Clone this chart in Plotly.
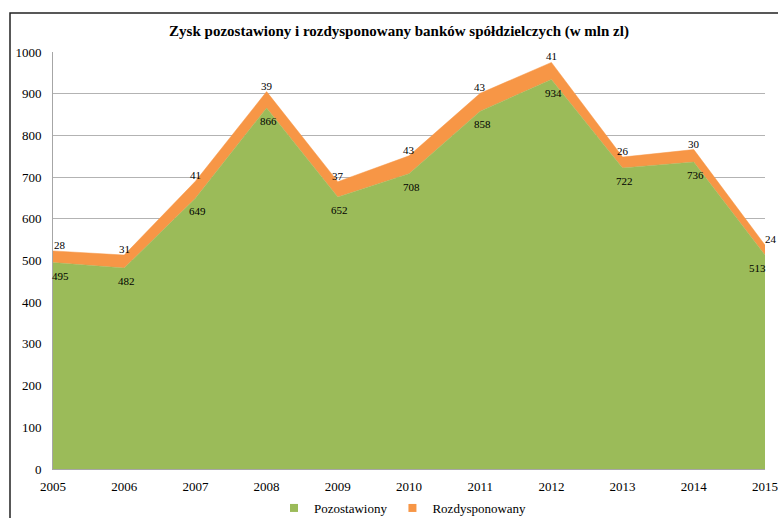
import plotly.graph_objects as go

years = [2005, 2006, 2007, 2008, 2009, 2010, 2011, 2012, 2013, 2014, 2015]
pozostawiony = [495, 482, 649, 866, 652, 708, 858, 934, 722, 736, 513]
rozdysponowany = [28, 31, 41, 39, 37, 43, 43, 41, 26, 30, 24]
series_names = ["Pozostawiony", "Rozdysponowany"]
title_text = "Zysk pozostawiony i rozdysponowany banków spółdzielczych (w mln zl)"

GREEN = "#9BBB59"
ORANGE = "#F79646"
FONT = "Liberation Serif, Times New Roman, serif"

total = [a + b for a, b in zip(pozostawiony, rozdysponowany)]
n = len(years)

W, H = 778, 518
L, R, T, B = 53, 13, 52, 49
PW, PH = W - L - R, H - T - B

fig = go.Figure()
for name, vals, col in zip(series_names, [pozostawiony, rozdysponowany], [GREEN, ORANGE]):
    fig.add_trace(go.Scatter(
        x=years, y=vals, name=name, stackgroup="one", showlegend=False,
        mode="lines", line=dict(width=0.5, color=col), fillcolor=col,
        hoverinfo="skip"))
for name, col in zip(series_names, [GREEN, ORANGE]):
    fig.add_trace(go.Scatter(
        x=[None], y=[None], name=name, mode="markers",
        marker=dict(symbol="square", size=8, color=col), hoverinfo="skip"))

annotations = []
for i, (x, g, t, r) in enumerate(zip(years, pozostawiony, total, rozdysponowany)):
    gx = 7 if i == 0 else (-8 if i == n - 1 else 2)
    ox = 7 if i == 0 else (6 if i == n - 1 else 0)
    annotations.append(dict(x=x, y=g, xref="x", yref="y", text=str(g), showarrow=False,
                            xshift=gx, yshift=-13, font=dict(family=FONT, size=11, color="black")))
    annotations.append(dict(x=x, y=t, xref="x", yref="y", text=str(r), showarrow=False,
                            xshift=ox, yshift=6, font=dict(family=FONT, size=11, color="black")))

fig.update_layout(
    width=W, height=H,
    margin=dict(l=L, r=R, t=T, b=B, autoexpand=False),
    paper_bgcolor="white", plot_bgcolor="white",
    font=dict(family=FONT, size=13, color="black"),
    title=dict(text="<b>" + title_text + "</b>", x=(399 - L) / PW, xref="paper", xanchor="center",
               y=1 - 31 / H, yanchor="middle", font=dict(family=FONT, size=15, color="black")),
    xaxis=dict(range=[2005, 2015], tickmode="array", tickvals=years,
               ticktext=[str(y) for y in years], showgrid=False,
               showline=True, linecolor="#A6A6A6", linewidth=1,
               ticks="", ticklabelstandoff=5,
               tickfont=dict(family=FONT, size=13, color="black")),
    yaxis=dict(range=[0, 1000], dtick=100, showgrid=True, gridcolor="#B3B3B3", gridwidth=1,
               showline=True, linecolor="#A6A6A6", linewidth=1, zeroline=False,
               ticks="", ticklabelstandoff=8,
               tickfont=dict(family=FONT, size=13, color="black")),
    legend=dict(orientation="h", x=(403 - L) / PW, xanchor="center",
                y=(H - B - 508) / PH, yanchor="middle", traceorder="normal",
                bgcolor="rgba(0,0,0,0)", itemwidth=30,
                font=dict(family=FONT, size=13, color="black")),
    annotations=annotations,
    shapes=[dict(type="rect", xref="paper", yref="paper",
                 x0=(10 - L) / PW, x1=(781 - L) / PW,
                 y0=(H - B - 522) / PH, y1=(H - B - 13) / PH,
                 line=dict(color="#222222", width=1.5), fillcolor="rgba(0,0,0,0)", layer="below")],
)

fig.write_html("out.html", config={"displayModeBar": False},
               post_script="document.body.style.margin='0';document.body.style.overflow='hidden';")
